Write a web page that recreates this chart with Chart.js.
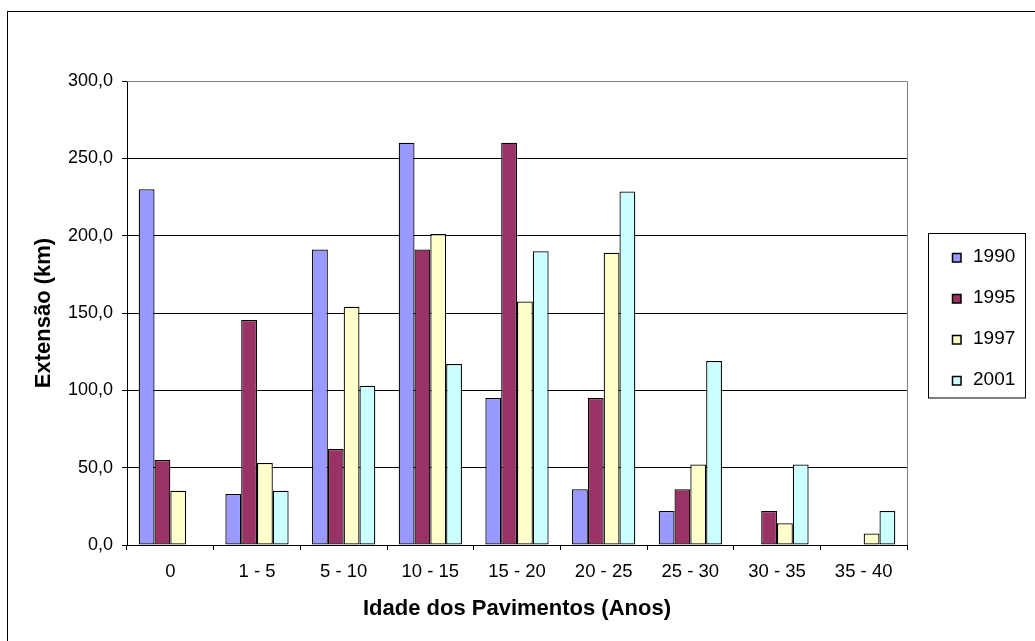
<!DOCTYPE html>
<html lang="pt">
<head>
<meta charset="utf-8">
<title>Extensão por idade dos pavimentos</title>
<script src="https://cdn.jsdelivr.net/npm/chart.js@4.4.1/dist/chart.umd.min.js"></script>
<style>
  html, body { margin: 0; padding: 0; background: #ffffff; }
  #wrap { position: relative; width: 1035px; height: 641px; }
</style>
</head>
<body>
<div id="wrap"><canvas id="chart"></canvas></div>
<script>
// Age classes of the pavements (years)
const categories = ['0', '1 - 5', '5 - 10', '10 - 15', '15 - 20', '20 - 25', '25 - 30', '30 - 35', '35 - 40'];

// Survey years
const seriesNames = ['1990', '1995', '1997', '2001'];

// Length of network (km) per age class, one array per survey
const km1990 = [230, 33, 191, 260, 95, 36, 22, null, null];
const km1995 = [55, 145.5, 62, 191, 260, 95, 36, 22, null];
const km1997 = [35, 53, 154, 201, 157.5, 189, 52, 14, 7.5];
const km2001 = [null, 35, 103, 117, 190, 228.5, 119, 52, 22];

// Value axis ticks
const yTickValues = [0, 50, 100, 150, 200, 250, 300];

const seriesColors = ['#9999FF', '#993366', '#FFFFCC', '#CCFFFF'];
const seriesValues = [km1990, km1995, km1997, km2001];

const FONT = "'Liberation Sans', Arial, sans-serif";
Chart.defaults.font.family = FONT;
Chart.defaults.color = '#000000';

const fmt = v => v.toFixed(1).replace('.', ',');

// Frame around the whole chart, plot-area outline and the boxed legend
const decorations = {
  id: 'decorations',
  beforeDraw(chart) {
    const ctx = chart.ctx;
    ctx.save();
    ctx.fillStyle = '#ffffff';
    ctx.fillRect(0, 0, chart.width, chart.height);
    ctx.strokeStyle = '#000000';
    ctx.lineWidth = 1;
    ctx.strokeRect(7.5, 11.5, chart.width + 20, chart.height + 20);
    ctx.restore();
  },
  afterDraw(chart) {
    const ctx = chart.ctx;
    const a = chart.chartArea;
    ctx.save();
    // grey outline on top and right of the plot area
    ctx.strokeStyle = '#808080';
    ctx.lineWidth = 1;
    ctx.beginPath();
    ctx.moveTo(a.left, Math.round(a.top) + 0.5);
    ctx.lineTo(Math.round(a.right) + 0.5, Math.round(a.top) + 0.5);
    ctx.lineTo(Math.round(a.right) + 0.5, a.bottom);
    ctx.stroke();

    // legend box
    const bx = 928.5, by = 233.5, bw = 97, bh = 164.5;
    ctx.fillStyle = '#ffffff';
    ctx.fillRect(bx, by, bw, bh);
    ctx.strokeStyle = '#000000';
    ctx.strokeRect(bx, by, bw, bh);

    ctx.font = '19px ' + FONT;
    ctx.textBaseline = 'middle';
    ctx.textAlign = 'left';
    chart.data.datasets.forEach((ds, i) => {
      const cy = 257 + i * 41;
      ctx.fillStyle = ds.backgroundColor;
      ctx.fillRect(952.5, cy - 3.5, 8.5, 8.5);
      ctx.strokeStyle = '#000000';
      ctx.lineWidth = 1.5;
      ctx.strokeRect(952.5, cy - 3.5, 8.5, 8.5);
      ctx.fillStyle = '#000000';
      ctx.fillText(ds.label, 973, cy);
    });
    ctx.restore();
  }
};

new Chart(document.getElementById('chart'), {
  type: 'bar',
  data: {
    labels: categories,
    datasets: seriesNames.map((name, i) => ({
      label: name,
      data: seriesValues[i],
      backgroundColor: seriesColors[i],
      borderColor: '#000000',
      borderWidth: 1.25,
      borderSkipped: false,
      categoryPercentage: 0.73,
      barPercentage: 1.0
    }))
  },
  options: {
    responsive: true,
    maintainAspectRatio: false,
    animation: false,
    devicePixelRatio: 1,
    layout: { padding: { top: 81, right: 128, bottom: 0, left: 0 } },
    plugins: {
      legend: { display: false },
      tooltip: { enabled: false }
    },
    scales: {
      x: {
        afterFit(scale) { scale.height = 96; },
        grid: {
          offset: true,
          drawOnChartArea: false,
          drawTicks: true,
          tickLength: 5,
          tickColor: '#000000',
          color: '#000000'
        },
        border: { display: true, color: '#000000', width: 1 },
        ticks: { font: { size: 18.5 }, color: '#000000', padding: 10.5, maxRotation: 0, autoSkip: false },
        title: {
          display: true,
          text: 'Idade dos Pavimentos (Anos)',
          font: { size: 22, weight: 'bold' },
          color: '#000000',
          padding: { top: 0, bottom: 19 }
        }
      },
      y: {
        min: 0,
        max: 300,
        afterFit(scale) { scale.width = 127; },
        afterBuildTicks(scale) { scale.ticks = yTickValues.map(v => ({ value: v })); },
        grid: {
          color: '#000000',
          lineWidth: 1,
          drawTicks: true,
          tickLength: 5,
          tickColor: '#000000'
        },
        border: { display: true, color: '#000000', width: 1 },
        ticks: {
          font: { size: 18 },
          color: '#000000',
          padding: 9,
          callback: v => fmt(v)
        },
        title: {
          display: true,
          text: 'Extensão (km)',
          font: { size: 22, weight: 'bold' },
          color: '#000000',
          padding: { top: 31, bottom: 0 }
        }
      }
    }
  },
  plugins: [decorations]
});
</script>
</body>
</html>
